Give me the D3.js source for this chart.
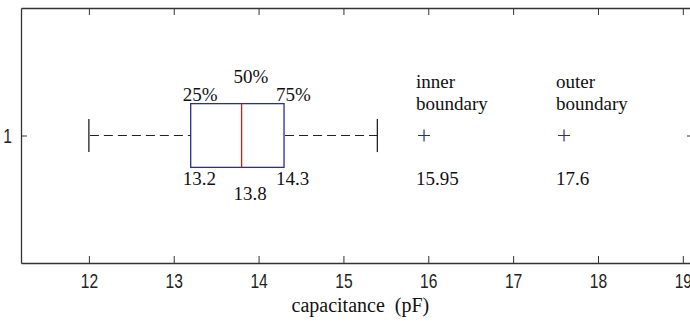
<!DOCTYPE html>
<html>
<head>
<meta charset="utf-8">
<script src="https://cdn.jsdelivr.net/npm/d3@7"></script>
<style>
  html, body { margin: 0; padding: 0; background: #fff; }
  .tick text { font-family: "Liberation Sans", Arial, sans-serif; }
</style>
</head>
<body>
<svg id="chart"></svg>
<script>
// box plot of capacitance
const quartileLabels = ['25%', '50%', '75%'];
const quartiles = [13.2, 13.8, 14.3];
const whiskers = [12, 15.4];
const boundaryLabels = [['inner', 'boundary'], ['outer', 'boundary']];
const boundaries = [15.95, 17.6];
const xTicks = [12, 13, 14, 15, 16, 17, 18, 19];
const yTicks = [1];

const w = 690, h = 323;
const mLeft = 21, mRight = 693, mTop = 8, mBottom = 263;
const boxHalf = 0.125, capHalf = 0.065;
const blue = '#2b2b9c', red = '#d11a1a', axisCol = '#333';
const serif = '"Liberation Serif", "Times New Roman", serif';

const svg = d3.select('#chart')
    .attr('width', w)
    .attr('height', h);

const x = d3.scaleLinear().domain([11.2, 19.12]).range([mLeft, mRight]);
const y = d3.scaleLinear().domain([0.5, 1.5]).range([mBottom, mTop]);

// axes: ticks pointing inward on all four sides
const axB = svg.append('g').attr('transform', 'translate(0,' + mBottom + ')')
    .call(d3.axisBottom(x).tickValues(xTicks).tickSizeInner(-7).tickSizeOuter(0).tickFormat(d3.format('d')));
const axT = svg.append('g').attr('transform', 'translate(0,' + mTop + ')')
    .call(d3.axisTop(x).tickValues(xTicks).tickSizeInner(-7).tickSizeOuter(0).tickFormat(''));
const axL = svg.append('g').attr('transform', 'translate(' + mLeft + ',0)')
    .call(d3.axisLeft(y).tickValues(yTicks).tickSizeInner(-6).tickSizeOuter(0).tickFormat(d3.format('d')));
const axR = svg.append('g').attr('transform', 'translate(' + mRight + ',0)')
    .call(d3.axisRight(y).tickValues(yTicks).tickSizeInner(-6).tickSizeOuter(0).tickFormat(''));

[axB, axT, axL, axR].forEach(a => {
    a.select('.domain').attr('stroke', axisCol).attr('stroke-width', 1.3);
    a.selectAll('.tick line').attr('stroke', axisCol);
    a.selectAll('.tick text').attr('fill', '#222').style('font-size', '20px');
});
// narrow looking tick labels, like the original
axB.selectAll('.tick text').attr('y', 0).attr('dy', 0)
    .attr('transform', 'translate(0,25) scale(0.78,1)');
axL.selectAll('.tick text').attr('x', 0).attr('dy', '0.36em')
    .attr('transform', 'translate(-9,0) scale(0.78,1)');

// whiskers
svg.append('g').selectAll('line')
    .data([[whiskers[0], quartiles[0]], [quartiles[2], whiskers[1]]])
    .enter().append('line')
    .attr('x1', d => x(d[0]) + 1)
    .attr('x2', d => x(d[1]))
    .attr('y1', y(1)).attr('y2', y(1))
    .attr('stroke', '#222')
    .attr('stroke-width', 1.2)
    .attr('stroke-dasharray', '9,5');

svg.append('g').selectAll('line')
    .data(whiskers)
    .enter().append('line')
    .attr('x1', d => x(d)).attr('x2', d => x(d))
    .attr('y1', y(1 + capHalf)).attr('y2', y(1 - capHalf))
    .attr('stroke', '#222')
    .attr('stroke-width', 1.3);

// box + median
svg.append('rect')
    .attr('x', x(quartiles[0]))
    .attr('y', y(1 + boxHalf))
    .attr('width', x(quartiles[2]) - x(quartiles[0]))
    .attr('height', y(1 - boxHalf) - y(1 + boxHalf))
    .attr('fill', 'none')
    .attr('stroke', blue)
    .attr('stroke-width', 1.3);

svg.append('line')
    .attr('x1', x(quartiles[1])).attr('x2', x(quartiles[1]))
    .attr('y1', y(1 + boxHalf)).attr('y2', y(1 - boxHalf))
    .attr('stroke', red)
    .attr('stroke-width', 1.3);

// outlier boundary markers
svg.append('g').selectAll('path')
    .data(boundaries)
    .enter().append('path')
    .attr('transform', d => 'translate(' + x(d) + ',' + y(1) + ')')
    .attr('d', 'M-6,0H6M0,-6V6')
    .attr('stroke', blue)
    .attr('stroke-width', 1.2)
    .attr('fill', 'none');

// annotations
const txt = svg.append('g')
    .style('font-family', serif)
    .style('font-size', '19px')
    .attr('fill', '#111');

txt.selectAll('.qlab')
    .data(quartiles)
    .enter().append('text')
    .attr('x', d => x(d) - 8)
    .attr('y', (d, i) => i === 1 ? 83 : 101)
    .text((d, i) => quartileLabels[i]);

txt.selectAll('.qval')
    .data(quartiles)
    .enter().append('text')
    .attr('x', d => x(d) - 8)
    .attr('y', (d, i) => i === 1 ? 200 : 185)
    .text(d => d);

boundaries.forEach((b, i) => {
    const t = txt.append('text').attr('x', x(b) - 8).attr('y', 88);
    boundaryLabels[i].forEach((s, j) => {
        t.append('tspan').attr('x', x(b) - 8).attr('dy', j ? 22 : 0).text(s);
    });
    txt.append('text').attr('x', x(b) - 8).attr('y', 185).text(b);
});

// x label
svg.append('text')
    .attr('x', (x(11.2) + x(19.2)) / 2)
    .attr('y', 312)
    .attr('text-anchor', 'middle')
    .style('font-family', serif)
    .style('font-size', '20px')
    .attr('fill', '#111')
    .attr('xml:space', 'preserve')
    .text('capacitance  (pF)');
</script>
</body>
</html>
